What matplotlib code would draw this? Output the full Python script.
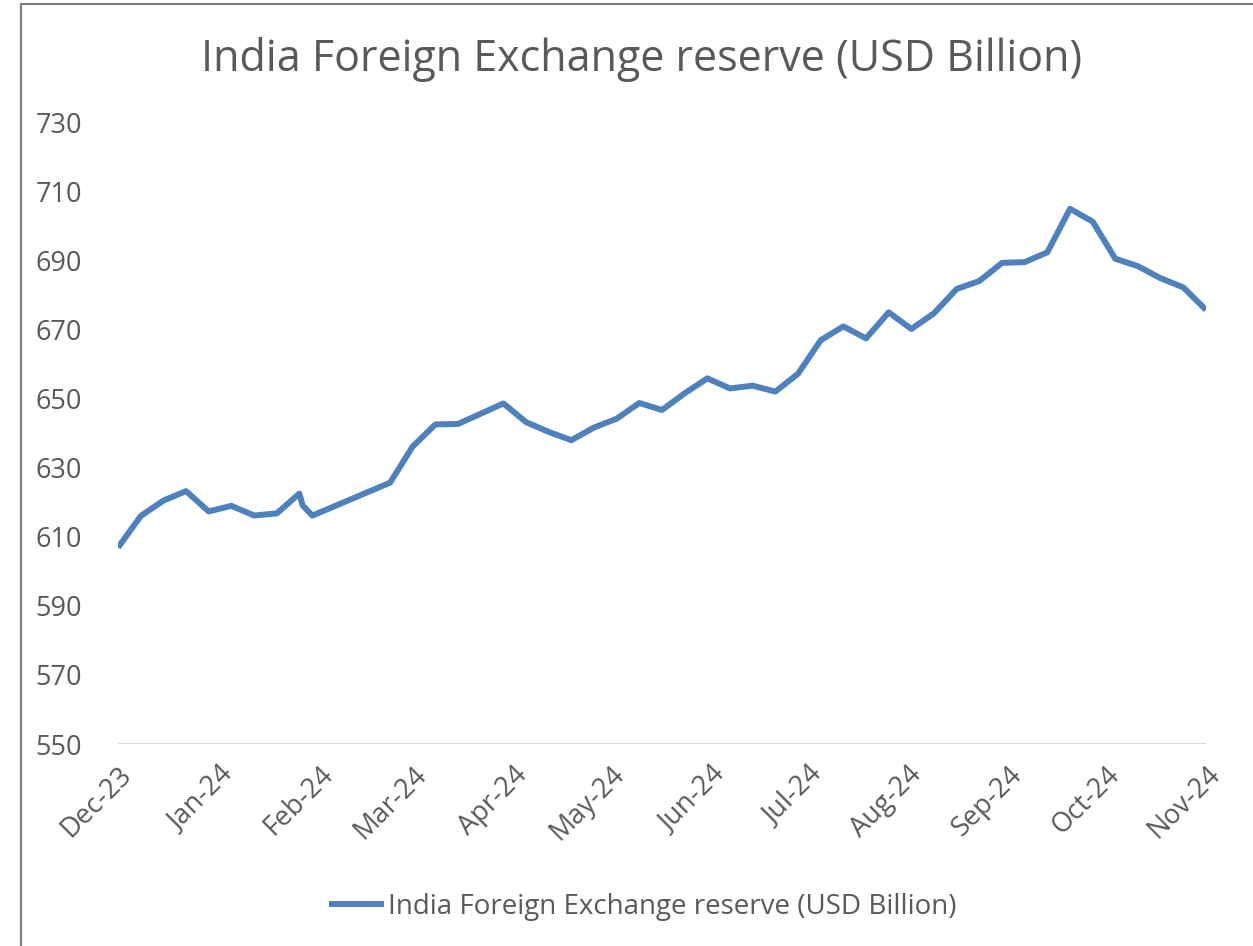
import matplotlib
matplotlib.use('Agg')
import matplotlib.pyplot as plt
import matplotlib.dates as mdates
import pandas as pd
from matplotlib.patches import Rectangle

plt.rcParams['font.family'] = ['Open Sans', 'DejaVu Sans']

# weekly reserve figures (USD bn)
week_dates = [
    '2023-12-08', '2023-12-15', '2023-12-22', '2023-12-29',
    '2024-01-05', '2024-01-12', '2024-01-19', '2024-01-26',
    '2024-02-02', '2024-02-03', '2024-02-06',
    '2024-03-01', '2024-03-08', '2024-03-15', '2024-03-22', '2024-03-29',
    '2024-04-05', '2024-04-12', '2024-04-19', '2024-04-26',
    '2024-05-03', '2024-05-10', '2024-05-17', '2024-05-24', '2024-05-31',
    '2024-06-07', '2024-06-14', '2024-06-21', '2024-06-28',
    '2024-07-05', '2024-07-12', '2024-07-19', '2024-07-26',
    '2024-08-02', '2024-08-09', '2024-08-16', '2024-08-23', '2024-08-30',
    '2024-09-06', '2024-09-13', '2024-09-20', '2024-09-27',
    '2024-10-04', '2024-10-11', '2024-10-18', '2024-10-25',
    '2024-11-01', '2024-11-08',
]
reserves = [
    606.86, 615.97, 620.44, 623.20,
    617.30, 618.94, 616.14, 616.73,
    622.47, 619.07, 616.10,
    625.63, 636.10, 642.49, 642.63, 645.58,
    648.56, 643.16, 640.33, 637.92,
    641.59, 644.15, 648.70, 646.67, 651.50,
    655.82, 652.90, 653.71, 651.99,
    657.16, 666.85, 670.86, 667.39,
    674.92, 670.12, 674.66, 681.69, 683.99,
    689.24, 689.46, 692.30, 704.89,
    701.18, 690.43, 688.27, 684.80,
    682.13, 675.65,
]
series_name = 'India Foreign Exchange reserve (USD Billion)'
y_ticks = [550, 570, 590, 610, 630, 650, 670, 690, 710, 730]

dates = pd.to_datetime(week_dates)
# monthly ticks on the 8th, matching the first data date
month_ticks = pd.date_range('2023-12-01', '2024-11-01', freq='MS') + pd.Timedelta(days=7)

fig = plt.figure(figsize=(12.53, 9.46), dpi=100)
ax = fig.add_axes([0.0942, 0.2135, 0.8683, 0.6575])

ax.plot(dates, reserves, color='#4F81BD', lw=4.3, solid_joinstyle='round',
        solid_capstyle='butt', label=series_name)

ax.set_ylim(550, 730)
ax.set_yticks(y_ticks)
ax.set_xlim(dates[0], dates[-1])
ax.set_xticks(month_ticks)
ax.xaxis.set_major_formatter(mdates.DateFormatter('%b-%y'))

for s in ax.spines.values():
    s.set_visible(False)
ax.axhline(550, color='#d9d9d9', lw=1.5, zorder=0)

ax.tick_params(axis='both', length=0, labelsize=19.5, colors='#595959')
ax.tick_params(axis='y', pad=26)
ax.tick_params(axis='x', pad=12)
for lbl in ax.get_xticklabels():
    lbl.set_rotation(45)
    lbl.set_ha('right')
    lbl.set_rotation_mode('anchor')

fig.text(0.512, 0.937, series_name, ha='center', va='center',
         fontsize=31, color='#595959')

leg = fig.legend(loc='center', bbox_to_anchor=(0.513, 0.041), frameon=False,
                 fontsize=20, handlelength=2.0, handletextpad=0.15)
for t in leg.get_texts():
    t.set_color('#595959')

# outer chart frame (cut off on right and bottom)
fig.patches.append(Rectangle((21 / 1253, -0.05), 1.2, 1 - 4 / 946 + 0.05,
                             transform=fig.transFigure, fill=False,
                             edgecolor='#7f7f7f', lw=1.5))

fig.savefig('out.png', dpi=100)
